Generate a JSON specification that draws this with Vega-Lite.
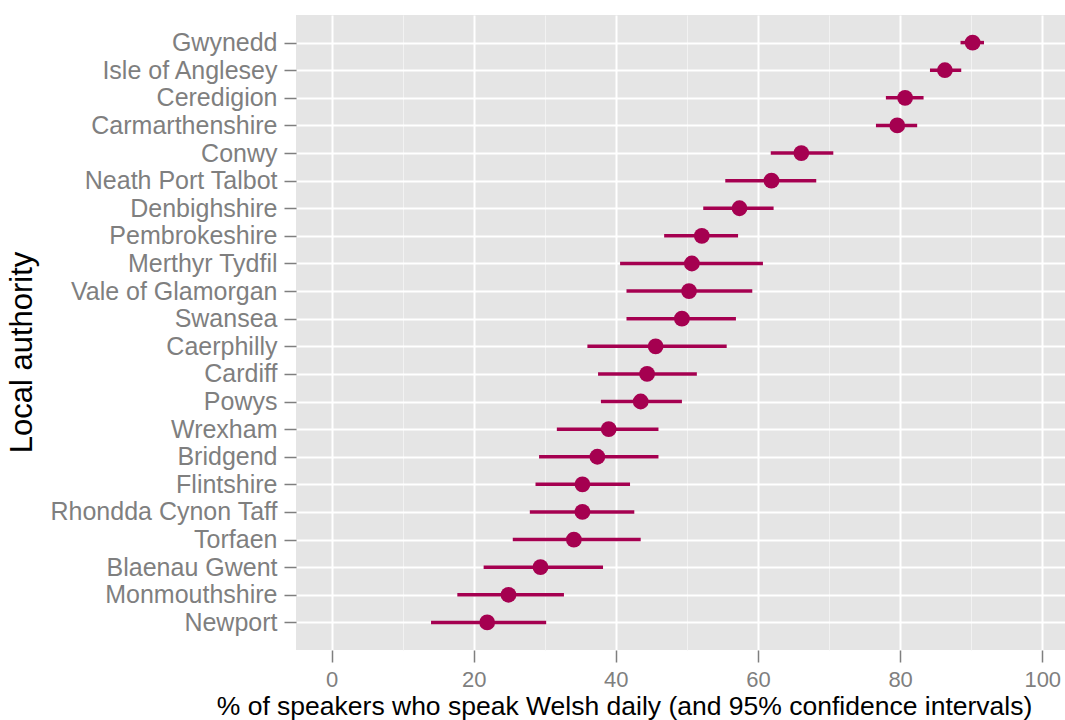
{
  "$schema": "https://vega.github.io/schema/vega-lite/v6.json",
  "width": 769,
  "height": 635,
  "autosize": {"type": "none"},
  "padding": {"left": 296, "top": 15, "right": 0, "bottom": 70},
  "background": "white",
  "view": {"fill": "#E5E5E5", "stroke": null},
  "config": {
    "font": "Liberation Sans",
    "axis": {"domain": false, "labelFont": "Liberation Sans", "titleFont": "Liberation Sans", "titleFontWeight": "normal", "titleColor": "black", "labelColor": "#7F7F7F", "tickColor": "#7F7F7F"}
  },
  "data": {
    "values": [
      {"authority": "Gwynedd", "pct": 90.2, "lo": 88.5, "hi": 91.8},
      {"authority": "Isle of Anglesey", "pct": 86.3, "lo": 84.2, "hi": 88.6},
      {"authority": "Ceredigion", "pct": 80.7, "lo": 78.0, "hi": 83.3},
      {"authority": "Carmarthenshire", "pct": 79.6, "lo": 76.6, "hi": 82.4},
      {"authority": "Conwy", "pct": 66.1, "lo": 61.8, "hi": 70.6},
      {"authority": "Neath Port Talbot", "pct": 61.9, "lo": 55.4, "hi": 68.2},
      {"authority": "Denbighshire", "pct": 57.4, "lo": 52.3, "hi": 62.2},
      {"authority": "Pembrokeshire", "pct": 52.1, "lo": 46.8, "hi": 57.2},
      {"authority": "Merthyr Tydfil", "pct": 50.7, "lo": 40.6, "hi": 60.7},
      {"authority": "Vale of Glamorgan", "pct": 50.3, "lo": 41.5, "hi": 59.2},
      {"authority": "Swansea", "pct": 49.3, "lo": 41.5, "hi": 56.9},
      {"authority": "Caerphilly", "pct": 45.6, "lo": 36.0, "hi": 55.6},
      {"authority": "Cardiff", "pct": 44.4, "lo": 37.5, "hi": 51.4},
      {"authority": "Powys", "pct": 43.5, "lo": 37.9, "hi": 49.3},
      {"authority": "Wrexham", "pct": 39.0, "lo": 31.7, "hi": 46.0},
      {"authority": "Bridgend", "pct": 37.4, "lo": 29.2, "hi": 46.0},
      {"authority": "Flintshire", "pct": 35.3, "lo": 28.7, "hi": 42.0},
      {"authority": "Rhondda Cynon Taff", "pct": 35.3, "lo": 27.9, "hi": 42.6},
      {"authority": "Torfaen", "pct": 34.1, "lo": 25.5, "hi": 43.5},
      {"authority": "Blaenau Gwent", "pct": 29.4, "lo": 21.4, "hi": 38.2},
      {"authority": "Monmouthshire", "pct": 24.9, "lo": 17.7, "hi": 32.7},
      {"authority": "Newport", "pct": 21.9, "lo": 14.0, "hi": 30.2}
    ]
  },
  "encoding": {
    "y": {
      "field": "authority", "type": "nominal", "sort": null,
      "scale": {"type": "point", "padding": 1.035},
      "axis": {
        "title": "Local authority", "titleFontSize": 31, "titleX": -274, "titleY": 337, "titleAlign": "center", "titleBaseline": "middle", "titleAngle": -90,
        "labelFontSize": 25, "labelPadding": 7, "labelLimit": 0, "tickSize": 12, "tickWidth": 1.5,
        "grid": true, "gridColor": "white", "gridWidth": 2
      }
    }
  },
  "layer": [
    {
      "mark": {"type": "rule", "strokeWidth": 3.5, "color": "#A50050"},
      "encoding": {
        "x": {
          "field": "lo", "type": "quantitative",
          "scale": {"domain": [-5, 103.2], "nice": false, "zero": false},
          "axis": {
            "title": "% of speakers who speak Welsh daily (and 95% confidence intervals)",
            "titleFontSize": 26.5, "titleX": 328, "titleY": 64, "titleAlign": "center", "titleBaseline": "alphabetic",
            "values": [0, 10, 20, 30, 40, 50, 60, 70, 80, 90, 100],
            "labelExpr": "datum.value % 20 === 0 ? datum.label : ''",
            "labelFontSize": 22, "labelBaseline": "alphabetic", "labelPadding": 24, "labelFlush": false, "labelOverlap": false,
            "tickSize": 12, "tickWidth": 1.5,
            "tickOpacity": {"condition": {"test": "datum.value % 20 === 0", "value": 1}, "value": 0},
            "grid": true,
            "gridColor": {"condition": {"test": "datum.value % 20 === 0", "value": "white"}, "value": "#F2F2F2"},
            "gridWidth": {"condition": {"test": "datum.value % 20 === 0", "value": 2}, "value": 1}
          }
        },
        "x2": {"field": "hi"}
      }
    },
    {
      "mark": {"type": "point", "filled": true, "opacity": 1, "size": 250, "color": "#A50050"},
      "encoding": {
        "x": {"field": "pct", "type": "quantitative"}
      }
    }
  ]
}
